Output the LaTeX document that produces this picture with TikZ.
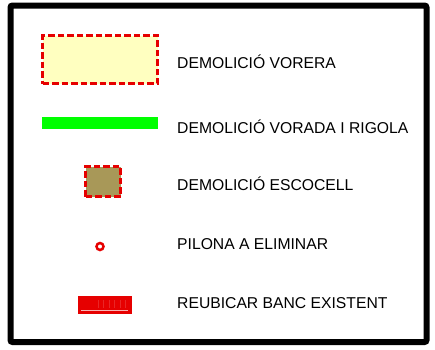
\documentclass[tikz,border=0pt]{standalone}
\usepackage{fontspec}
\setmainfont{Liberation Sans}
\definecolor{paleyellow}{RGB}{255,255,192}
\definecolor{soilbrown}{RGB}{168,152,88}
\definecolor{cadred}{RGB}{230,0,0}
\definecolor{cadgreen}{RGB}{0,255,0}
\usetikzlibrary{positioning,calc}

\tikzset{
  legendtext/.style={anchor=west, font=\fontsize{15.7}{18}\selectfont, inner sep=0pt},
  dashedred/.style={draw=cadred, line width=2.6pt, dash pattern=on 6.5pt off 3pt}
}

\begin{document}
\begin{tikzpicture}[x=1pt,y=-1pt]
    \useasboundingbox (0,0) rectangle (435,349);
    % frame
    \draw[line width=6pt, rounded corners=2pt] (10.5,5.5) rectangle (426.5,342);
    % symbols
    \node[dashedred, fill=paleyellow, minimum width=115pt, minimum height=48pt,
          inner sep=0pt] (vorera) at (100,59.5) {};
    \node[fill=cadgreen, minimum width=116pt, minimum height=12pt,
          inner sep=0pt] (vorada) at (100,123) {};
    \node[dashedred, fill=soilbrown, minimum width=35pt, minimum height=30pt,
          inner sep=0pt] (escocell) at (103,181.5) {};
    \node[circle, draw=cadred, line width=2.5pt, minimum size=7pt,
          inner sep=0pt] (pilona) at (100,246.5) {};
    \node[fill=cadred, minimum width=54pt, minimum height=18pt,
          inner sep=0pt] (banc) at (105,305) {};
    \foreach \i in {0,...,5}
      \draw[white, opacity=0.15, line width=0.4pt]
        ($(banc.north west)+(20+\i*5.5,4)$) -- ++(0,8);
    \draw[white, opacity=0.7, line width=0.6pt]
      ($(banc.south west)+(3,-3.5)$) -- ($(banc.south east)+(-4,-3.5)$);
    % labels
    \node[legendtext] (tvorera) at (177,62) {DEMOLICIÓ VORERA};
    \node[legendtext] (tvorada) at (177,127) {DEMOLICIÓ VORADA I RIGOLA};
    \node[legendtext] (tescocell) at (177,184) {DEMOLICIÓ ESCOCELL};
    \node[legendtext] (tpilona) at (177,244) {PILONA A ELIMINAR};
    \node[legendtext] (tbanc) at (177,303) {REUBICAR BANC EXISTENT};
\end{tikzpicture}
\end{document}
